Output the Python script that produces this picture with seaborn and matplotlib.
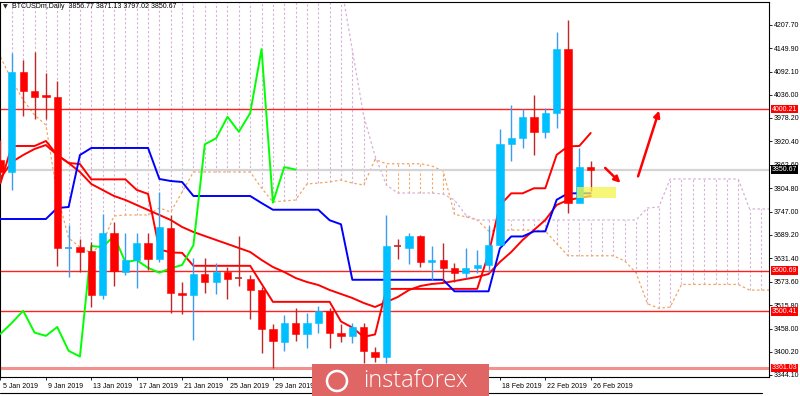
import matplotlib
matplotlib.use("Agg")
import matplotlib.pyplot as plt
import matplotlib.transforms as mtransforms
from matplotlib.patches import Rectangle, FancyArrowPatch, Ellipse
from matplotlib.lines import Line2D
import numpy as np
import pandas as pd
import seaborn as sns

# ---------------- data (daily BTCUSD, 5 Jan 2019 .. 26 Feb 2019) ----------------
opens = [3874, 3844, 4092, 4045, 4034, 4029, 3657, 3659, 3649, 3541, 3695, 3598, 3627, 3669,
         3629, 3706, 3546, 3541, 3593, 3574, 3598, 3582, 3580, 3553, 3457, 3426, 3472, 3445,
         3472, 3502, 3448, 3440, 3462, 3401, 3389, 3661, 3658, 3687, 3622, 3627, 3608, 3596,
         3607, 3614, 3664, 3913, 3928, 3981, 3944, 3990, 4148, 3769, 3856.77]
highs = [3924, 4139, 4121, 4142, 4090, 4070, 3714, 3679, 3673, 3741, 3720, 3695, 3694, 3694,
         3796, 3739, 3574, 3632, 3632, 3620, 3610, 3687, 3590, 3560, 3469, 3492, 3509, 3496,
         3514, 3509, 3469, 3472, 3472, 3413, 3739, 3679, 3694, 3689, 3662, 3670, 3621, 3657,
         3652, 3711, 3951, 4010, 4000, 4035, 4003, 4191, 4220, 3903, 3871.13]
lows = [3818, 3800, 3983, 3975, 3975, 3612, 3585, 3598, 3511, 3531, 3563, 3590, 3558, 3603,
        3622, 3496, 3494, 3430, 3546, 3543, 3531, 3563, 3482, 3398, 3361, 3403, 3428, 3410,
        3448, 3410, 3426, 3422, 3373, 3376, 3373, 3630, 3618, 3611, 3578, 3574, 3574, 3583,
        3596, 3598, 3662, 3873, 3905, 3887, 3929, 3953, 3743, 3767, 3797.02]
closes = [3845, 4092, 4045, 4030, 4029, 3658, 3660, 3647, 3541, 3695, 3601, 3627, 3669, 3629,
          3709, 3546, 3542, 3593, 3574, 3598, 3580, 3581, 3553, 3457, 3427, 3472, 3445, 3472,
          3502, 3448, 3440, 3462, 3403, 3389, 3662, 3659, 3687, 3622, 3627, 3608, 3596, 3607,
          3615, 3664, 3913, 3928, 3981, 3944, 3990, 4148, 3769, 3856.77, 3850.67]

# Ichimoku lines (tenkan / kijun) and red moving average, one value per day
tenkan = [3817.5, 3908.9, 3908.9, 3908.9, 3921.2, 3886.6, 3866.9, 3864.4, 3826.5, 3826.5,
          3826.5, 3826.5, 3800.5, 3790.5, 3653.5, 3646.0, 3645.0, 3613.0, 3613.0, 3613.0,
          3613.0, 3613.0, 3613.0, 3568.5, 3524.0, 3524.0, 3524.0, 3524.0, 3524.0, 3524.0,
          3475.5, 3460.5, 3437.5, 3443.5, 3556.0, 3556.0, 3556.0, 3556.0, 3556.0, 3556.0,
          3556.0, 3556.0, 3556.0, 3642.5, 3762.5, 3792.0, 3792.0, 3804.5, 3804.5, 3887.0,
          3908.0, 3909.0, 3941.0]
kijun = [3728.6, 3728.6, 3728.6, 3728.6, 3728.6, 3755.8, 3758.2, 3886.6, 3904.0, 3904.0,
         3904.0, 3904.0, 3904.0, 3904.0, 3827.4, 3822.4, 3820.0, 3785.4, 3785.4, 3785.4,
         3785.4, 3785.4, 3785.4, 3768.0, 3751.5, 3751.5, 3751.5, 3751.5, 3751.5, 3725.5,
         3715.5, 3578.5, 3578.5, 3578.5, 3578.5, 3578.5, 3578.5, 3578.5, 3578.5, 3578.5,
         3550.0, 3550.0, 3550.0, 3550.0, 3656.0, 3685.5, 3685.5, 3698.0, 3698.0, 3776.0,
         3792.0, 3792.0, 3792.0]
ema_line = [3829.8, 3869.4, 3886.6, 3901.5, 3911.3, 3886.6, 3866.9, 3844.7, 3815.0, 3800.2,
            3785.4, 3775.6, 3763.2, 3750.8, 3738.5, 3726.1, 3708.9, 3696.5, 3686.6, 3676.7,
            3666.9, 3657.0, 3647.1, 3627.4, 3610.1, 3597.7, 3582.9, 3573.0, 3565.6, 3553.3,
            3543.4, 3533.5, 3521.2, 3511.3, 3523.6, 3536.0, 3553.3, 3563.2, 3568.1, 3570.6,
            3575.5, 3580.4, 3585.4, 3592.8, 3622.4, 3647.1, 3676.7, 3701.4, 3726.1, 3763.2,
            3775.6, 3780.5, 3785.4]
# Senkou spans (cloud), extending into the future
span_a = [4128.6, 4071.8, 4022.5, 3985.4, 3960.7, 3787.9, 3681.7, 3659.4, 3644.6, 3669.3,
          3736.0, 3738.5, 3738.5, 3738.5, 3755.8, 3745.9, 3795.3, 3844.7, 3844.7, 3844.7,
          3844.7, 3844.7, 3844.7, 3805.2, 3770.6, 3773.1, 3775.6, 3815.0, 3817.5, 3820.0,
          3824.9, 3817.5, 3812.6, 3875.5, 3865.0, 3865.0, 3865.0, 3865.0, 3859.5, 3847.0,
          3740.0, 3734.0, 3726.1, 3699.0, 3701.4, 3701.4, 3701.4, 3701.4, 3699.0, 3668.0,
          3637.8, 3637.8, 3637.8, 3637.8, 3637.8, 3624.8, 3595.5, 3519.5, 3508.0, 3511.0,
          3567.0, 3567.0, 3567.0, 3567.0, 3567.0, 3567.0, 3553.0, 3553.0, 3553.0]
span_b = [4500.0] * 30 + [4308.9, 4145.9, 3983.0, 3884.2, 3812.6, 3792.8, 3792.8, 3792.8,
                          3792.8, 3790.3, 3775.6, 3738.5] + [3726.1] * 15 + \
         [3755.8, 3758.2] + [3827.4] * 7 + [3753.3, 3753.3, 3753.3]
chikou_shift = 26

levels = [4000.21, 3600.69, 3500.41]
support_level = 3361.03
price_ticks = [4207.70, 4149.90, 4092.10, 4036.00, 3978.20, 3920.40, 3862.60, 3804.80,
               3747.00, 3689.20, 3631.40, 3573.60, 3515.80, 3458.00, 3400.20, 3344.10]
date_tick_days = [0, 4, 8, 12, 16, 20, 24, 44, 48, 52]
date_labels = ["5 Jan 2019", "9 Jan 2019", "13 Jan 2019", "17 Jan 2019", "21 Jan 2019",
               "25 Jan 2019", "29 Jan 2019", "18 Feb 2019", "22 Feb 2019", "26 Feb 2019"]

# annotations (in day / price units)
yellow_box = (50.8, 3780.4, 3.43, 27.2)
arrow_down = ((53.1, 3859.5), (54.8, 3813.0))
arrow_up = ((56.1, 3827.4), (58.1, 4002.7))

# ---------------- figure ----------------
sns.set_theme(style="white")
plt.rcParams['font.family'] = ['Liberation Sans', 'DejaVu Sans']

W, H = 800, 396
fig = plt.figure(figsize=(W / 100, H / 100), dpi=100)
fig.patch.set_facecolor('white')
ax = fig.add_axes([0 / W, (H - 377) / H, 769 / W, 375 / H])
ax.set_facecolor('white')

days = np.arange(len(opens))
ext_days = np.arange(len(span_a))

# cloud hatching
for d, a, b in zip(ext_days, span_a, span_b):
    col = '#d8b0d8' if b >= a else '#f4a460'
    ax.vlines(d, min(a, b), max(a, b), colors=col, linestyles=(0, (2, 2)),
              linewidth=0.8, zorder=1)
ax.plot(ext_days, span_a, color='#f4a460', linestyle=(0, (2, 2)), linewidth=0.9, zorder=1.5)
ax.plot(ext_days, span_b, color='#d8b0d8', linestyle=(0, (2, 2)), linewidth=0.9, zorder=1.5)

# horizontal levels
for lv in levels:
    ax.axhline(lv, color='#ff2020', linewidth=1.0, zorder=2)
ax.axhline(support_level, color='#f49090', linewidth=2.2, zorder=2)
ax.axhline(closes[-1], color='#d4d4d4', linewidth=1.6, zorder=2)

# indicator lines via seaborn
df = pd.DataFrame({'day': days, 'tenkan': tenkan, 'kijun': kijun, 'ema': ema_line})
sns.lineplot(data=df, x='day', y='ema', color='#ff0000', linewidth=1.4, ax=ax, zorder=3)
sns.lineplot(data=df, x='day', y='tenkan', color='#ff0000', linewidth=1.4, ax=ax, zorder=3)
sns.lineplot(data=df, x='day', y='kijun', color='#0000ff', linewidth=1.4, ax=ax, zorder=3)
chikou = pd.DataFrame({'day': days[:len(closes) - chikou_shift],
                       'close': closes[chikou_shift:]})
sns.lineplot(data=chikou, x='day', y='close', color='#00ff00', linewidth=1.4, ax=ax, zorder=3)

# candles
bw = 0.64
for d, o, h, l, c in zip(days, opens, highs, lows, closes):
    bull = c >= o
    wick = '#3d9cf0' if bull else '#c02828'
    body = '#00bfff' if bull else '#ff0000'
    ax.vlines(d, l, h, colors=wick, linewidth=1.0, zorder=4)
    hgt = abs(c - o)
    if hgt < 3.5:
        ax.hlines(o, d - bw / 2, d + bw / 2, colors=wick, linewidth=1.2, zorder=5)
    else:
        ax.add_patch(Rectangle((d - bw / 2, min(o, c)), bw, hgt, facecolor=body,
                               edgecolor=body, linewidth=0.4, zorder=5))

# annotations
ax.add_patch(Rectangle(yellow_box[:2], yellow_box[2], yellow_box[3], facecolor='#f4f44a',
                       alpha=0.75, edgecolor='none', zorder=6))
for (p0, p1) in (arrow_down, arrow_up):
    ax.add_patch(FancyArrowPatch(p0, p1, arrowstyle='-|>', mutation_scale=9,
                                 color='#ff0000', linewidth=1.8, zorder=7))

# axes
ax.set_xlim(-0.044, 67.71)
ax.set_ylim(3338.4, 4264.5)
ax.set_xlabel('')
ax.set_ylabel('')
ax.yaxis.tick_right()
ax.set_yticks(price_ticks)
ax.set_yticklabels([f"{v:.2f}" for v in price_ticks], fontsize=5, color='black')
ax.tick_params(axis='y', length=2.5, width=0.6, pad=1, colors='black', direction='out',
               right=True, left=False)
ax.set_xticks(date_tick_days)
ax.set_xticklabels(date_labels, fontsize=5, ha='left', color='black')
ax.tick_params(axis='x', length=2.5, width=0.6, pad=1.5, colors='black', direction='out',
               bottom=True)
offs = mtransforms.ScaledTranslation(1.5 / 72, 0, fig.dpi_scale_trans)
for lbl in ax.get_xticklabels():
    lbl.set_transform(lbl.get_transform() + offs)
for s in ax.spines.values():
    s.set_color('black')
    s.set_linewidth(0.8)
ax.grid(False)

# price boxes on the right
trans = mtransforms.blended_transform_factory(ax.transAxes, ax.transData)
for lv in levels + [support_level]:
    ax.text(1 + 2.5 / 769, lv, f"{lv:.2f}", transform=trans, fontsize=5, color='white',
            va='center', ha='left', clip_on=False, zorder=10,
            bbox=dict(boxstyle='square,pad=0.12', facecolor='#ff0000', edgecolor='none'))
ax.text(1 + 2.5 / 769, closes[-1], f"{closes[-1]:.2f}", transform=trans, fontsize=5,
        color='white', va='center', ha='left', clip_on=False, zorder=10,
        bbox=dict(boxstyle='square,pad=0.12', facecolor='#000000', edgecolor='none'))

# title
fig.text(3 / W, 1 - 7 / H, "\u25bc", fontsize=4.5, va='center', ha='left',
         family=['DejaVu Sans'])
fig.text(12 / W, 1 - 7 / H,
         f"BTCUSDm,Daily  {opens[-1]:.2f} {highs[-1]:.2f} {lows[-1]:.2f} {closes[-1]:.2f}",
         fontsize=5, va='center', ha='left', color='black')

# bottom bar line
fig.add_artist(Line2D([0, 762 / W], [3 / H, 3 / H], color='black', linewidth=0.8))

# watermark banner
fig.add_artist(Rectangle((312 / W, 0), 177 / W, 32 / H, transform=fig.transFigure,
                         facecolor='#e06666', edgecolor='none', zorder=20))
fig.add_artist(Ellipse((337 / W, 15 / H), 20 / W, 20 / H, transform=fig.transFigure,
                       facecolor='none', edgecolor='white', linewidth=1.8, zorder=21))
fig.text(415 / W, 15 / H, "instaforex", color='white', fontsize=17, ha='center',
         va='center', zorder=22, family=['Open Sans', 'DejaVu Sans'], fontweight='light')

fig.savefig("out.png", dpi=100, facecolor='white')
